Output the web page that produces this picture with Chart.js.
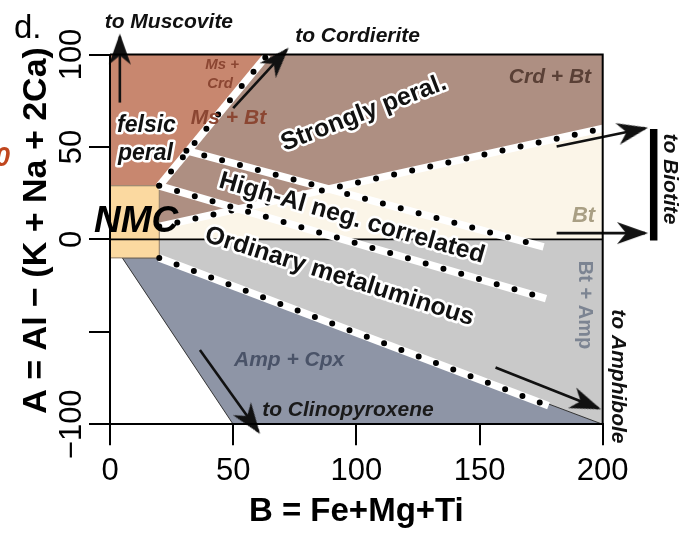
<!DOCTYPE html>
<html>
<head>
<meta charset="utf-8">
<script src="https://cdn.jsdelivr.net/npm/chart.js@4.4.0/dist/chart.umd.min.js"></script>
<style>
    html, body { margin: 0; padding: 0; background: #fff; }
    #wrap { width: 695px; height: 537px; }
</style>
</head>
<body>
<div id="wrap"><canvas id="myChart" width="695" height="537"></canvas></div>
<script>
// axes
const xTicks = [0, 50, 100, 150, 200];
const xTickLabels = ['0', '50', '100', '150', '200'];
const yTicks = [100, 50, 0, -50, -100];
const yTickLabels = ['100', '50', '0', '', '\u2212100'];

// field polygons, B (x) and A (y)
const felsicB = [0, 20, 64, 0];
const felsicA = [29, 29, 100, 100];
const peralB = [20, 64, 200, 200, 20];
const peralA = [29, 100, 100, 60, 7];
const biotiteB = [20, 200, 200, 20];
const biotiteA = [7, 60, 0, 0];
const metalB = [20, 200, 200, 20];
const metalA = [0, 0, -100, -10];
const cpxB = [5, 20, 200, 50, 5];
const cpxA = [-10, -10, -100, -100, -10];
const nmcB = [0, 20, 20, 0, 0];
const nmcA = [-10, -10, 29, 29, -10];

// dotted boundaries [B, A] pairs
const felsicLine = [[20, 29], [64, 100]];
const strongLine = [[31, 48], [176, -4]];
const biotiteLine = [[20, 7], [200, 60]];
const highAlLine = [[20, 29], [177, -32]];
const metalLine = [[20, -10], [178, -90]];

// arrows: start, tip
const toMuscovite = [[4, 74], [4, 109.7]];
const toCordierite = [[50, 71], [71.7, 102.5]];
const toBiotiteUp = [[181.3, 50.2], [217.2, 60.1]];
const toBiotiteLow = [[181.3, 3.4], [217.2, 3.4]];
const toAmphibole = [[156.5, -69.3], [198.2, -91.3]];
const toClinopyroxene = [[36.5, -59.8], [60.2, -103.9]];
const biotiteBar = [[220.7, 59.7], [220.7, -0.6]];

// text annotations
const notes = [
    { t: 'to Muscovite', b: 23.9, a: 114.4, size: 21, style: 'italic bold', color: '#111' },
    { t: 'to Cordierite', b: 100.5, a: 106.5, size: 21, style: 'italic bold', color: '#111' },
    { t: 'Ms +', b: 45.5, a: 92.2, size: 15, style: 'italic bold', color: '#8b4632' },
    { t: 'Crd', b: 44.7, a: 81.9, size: 15, style: 'italic bold', color: '#8b4632' },
    { t: 'Ms + Bt', b: 48.1, a: 62.4, size: 21, style: 'italic bold', color: '#8b4632' },
    { t: 'felsic', b: 14.8, a: 58.1, size: 23, style: 'italic bold', color: '#111', halo: true },
    { t: 'peral', b: 14.4, a: 42.9, size: 23, style: 'italic bold', color: '#111', halo: true },
    { t: 'NMC', b: 10.6, a: 4.0, size: 37, style: 'italic bold', color: '#000' },
    { t: 'Strongly peral.', b: 104.0, a: 64.8, size: 25, style: 'bold', color: '#111', halo: true, rot: -21 },
    { t: 'Crd + Bt', b: 178.6, a: 84.6, size: 21, style: 'italic bold', color: '#5a4036' },
    { t: 'High-Al neg. correlated', b: 97.4, a: 7.8, size: 25, style: 'bold', color: '#111', halo: true, rot: 16 },
    { t: 'Bt', b: 192.2, a: 9.6, size: 22, style: 'italic bold', color: '#a99f84' },
    { t: 'Ordinary metaluminous', b: 92.3, a: -23.7, size: 25, style: 'bold', color: '#111', halo: true, rot: 17.5 },
    { t: 'Bt + Amp', b: 192.8, a: -35.5, size: 20, style: 'bold', color: '#7c8492', rot: 90, mid: true },
    { t: 'to Biotite', b: 227.3, a: 32.7, size: 21, style: 'italic bold', color: '#111', rot: 90, mid: true },
    { t: 'to Amphibole', b: 206.2, a: -74.1, size: 21, style: 'italic bold', color: '#111', rot: 90, mid: true },
    { t: 'Amp + Cpx', b: 72.7, a: -68.5, size: 21, style: 'italic bold', color: '#4a5368' },
    { t: 'to Clinopyroxene', b: 96.6, a: -95.5, size: 21, style: 'italic bold', color: '#1a1a1a' },
];

const FONT = '"Liberation Sans", Arial, Helvetica, sans-serif';

function pts(bs, as) {
    return bs.map((b, i) => ({ x: b, y: as[i] }));
}

function pairs(list) {
    return list.map(p => ({ x: p[0], y: p[1] }));
}

// notched arrowhead, tip a little past the centre of the image
function makeArrowHead() {
    const c = document.createElement('canvas');
    c.width = 24;
    c.height = 64;
    const g = c.getContext('2d');
    g.fillStyle = '#111';
    g.beginPath();
    g.moveTo(12, 29);
    g.lineTo(23, 60);
    g.lineTo(12, 51);
    g.lineTo(1, 60);
    g.closePath();
    g.fill();
    return c;
}
const arrowHead = makeArrowHead();

function arrowAngle(chart, data) {
    const xs = chart.scales.x, ys = chart.scales.y;
    const dx = xs.getPixelForValue(data[1].x) - xs.getPixelForValue(data[0].x);
    const dy = ys.getPixelForValue(data[1].y) - ys.getPixelForValue(data[0].y);
    return Math.atan2(dy, dx) * 180 / Math.PI + 90;
}

function area(data, color, border) {
    return {
        data: data,
        fill: 'shape',
        backgroundColor: color,
        borderColor: border || 'rgba(0,0,0,0)',
        borderWidth: border ? 1 : 0,
        pointRadius: 0,
    };
}

function line(data, color, width, extra) {
    return Object.assign({
        data: data,
        fill: false,
        borderColor: color,
        borderWidth: width,
        pointRadius: 0,
        clip: false,
    }, extra || {});
}

function arrow(list) {
    return line(pairs(list), '#111', 2.6, {
        pointRadius: [0, 50],
        pointStyle: arrowHead,
        pointRotation: (c) => arrowAngle(c.chart, c.dataset.data),
    });
}

function dotted(list) {
    return [
        line(pairs(list), '#ffffff', 7.5),
        line(pairs(list), '#000000', 6, { borderDash: [0, 18.5], borderCapStyle: 'round' }),
    ];
}

const datasets = [
    area(pts(felsicB, felsicA), '#c8876f'),
    area(pts(peralB, peralA), '#ae8f82'),
    area(pts(biotiteB, biotiteA), '#fbf5e8'),
    area(pts(metalB, metalA), '#c9c9c9'),
    area(pts(cpxB, cpxA), '#8e95a6', '#333333'),
    area(pts(nmcB, nmcA), '#fbd9a0', '#8c7b66'),
    line([{ x: 0, y: 0 }, { x: 200, y: 0 }], '#000', 1.6),
    ...dotted(felsicLine),
    ...dotted(strongLine),
    ...dotted(biotiteLine),
    ...dotted(highAlLine),
    ...dotted(metalLine),
    arrow(toMuscovite),
    arrow(toCordierite),
    arrow(toBiotiteUp),
    arrow(toBiotiteLow),
    arrow(toAmphibole),
    arrow(toClinopyroxene),
    line(pairs(biotiteBar), '#000', 7.5),
    line([{ x: 0, y: 100 }, { x: 200, y: 100 }, { x: 200, y: -100 }], '#000', 2),
];
// first in the list sits at the bottom
datasets.forEach((d, i) => { d.order = datasets.length - i; });

function drawNote(ctx, n, xs, ys) {
    ctx.save();
    ctx.translate(xs.getPixelForValue(n.b), ys.getPixelForValue(n.a));
    ctx.rotate((n.rot || 0) * Math.PI / 180);
    ctx.font = `${n.style} ${n.size}px ${FONT}`;
    ctx.textAlign = 'center';
    ctx.textBaseline = n.mid ? 'middle' : 'alphabetic';
    if (n.halo) {
        ctx.lineJoin = 'round';
        ctx.lineWidth = 5;
        ctx.strokeStyle = '#ffffff';
        ctx.strokeText(n.t, 0, 0);
    }
    ctx.fillStyle = n.color;
    ctx.fillText(n.t, 0, 0);
    ctx.restore();
}

const textLayer = {
    id: 'textLayer',
    afterDraw(chart) {
        const ctx = chart.ctx;
        const xs = chart.scales.x, ys = chart.scales.y;
        const ca = chart.chartArea;

        notes.forEach(n => drawNote(ctx, n, xs, ys));

        ctx.save();
        ctx.fillStyle = '#000';
        ctx.font = `31px ${FONT}`;
        ctx.textAlign = 'center';
        ctx.textBaseline = 'alphabetic';
        xTicks.forEach((v, i) => {
            ctx.fillText(xTickLabels[i], xs.getPixelForValue(v), ca.bottom + 56);
        });
        yTicks.forEach((v, i) => {
            if (!yTickLabels[i]) return;
            ctx.save();
            ctx.translate(ca.left - 29, ys.getPixelForValue(v));
            ctx.rotate(-Math.PI / 2);
            ctx.fillText(yTickLabels[i], 0, 0);
            ctx.restore();
        });

        ctx.font = `bold 33px ${FONT}`;
        ctx.fillText('B = Fe+Mg+Ti', (ca.left + ca.right) / 2, ca.bottom + 97);

        ctx.save();
        ctx.translate(ca.left - 64, (ca.top + ca.bottom) / 2 - 9);
        ctx.rotate(-Math.PI / 2);
        ctx.font = `bold 34px ${FONT}`;
        ctx.fillText('A = Al \u2212 (K + Na + 2Ca)', 0, 0);
        ctx.restore();

        ctx.textAlign = 'left';
        ctx.font = `33px ${FONT}`;
        ctx.fillText('d.', 14, 38);

        ctx.fillStyle = '#c0461e';
        ctx.font = `italic bold 27px ${FONT}`;
        ctx.fillText('0', -5, 166);
        ctx.restore();
    }
};

function axis(min, max) {
    return {
        type: 'linear',
        min: min,
        max: max,
        ticks: { stepSize: 50, display: false },
        grid: { drawOnChartArea: false, drawTicks: true, tickLength: 21, color: '#000', lineWidth: 2 },
        border: { display: true, color: '#000', width: 2, z: 1 },
    };
}

new Chart(document.getElementById('myChart'), {
    type: 'line',
    data: { datasets: datasets },
    options: {
        responsive: false,
        animation: false,
        events: [],
        layout: { padding: { left: 89, right: 92.3, top: 54.5, bottom: 91.7 } },
        elements: { point: { radius: 0 }, line: { tension: 0 } },
        scales: {
            x: axis(0, 200),
            y: axis(-100, 100),
        },
        plugins: {
            legend: { display: false },
            tooltip: { enabled: false },
        },
    },
    plugins: [textLayer],
});
</script>
</body>
</html>
